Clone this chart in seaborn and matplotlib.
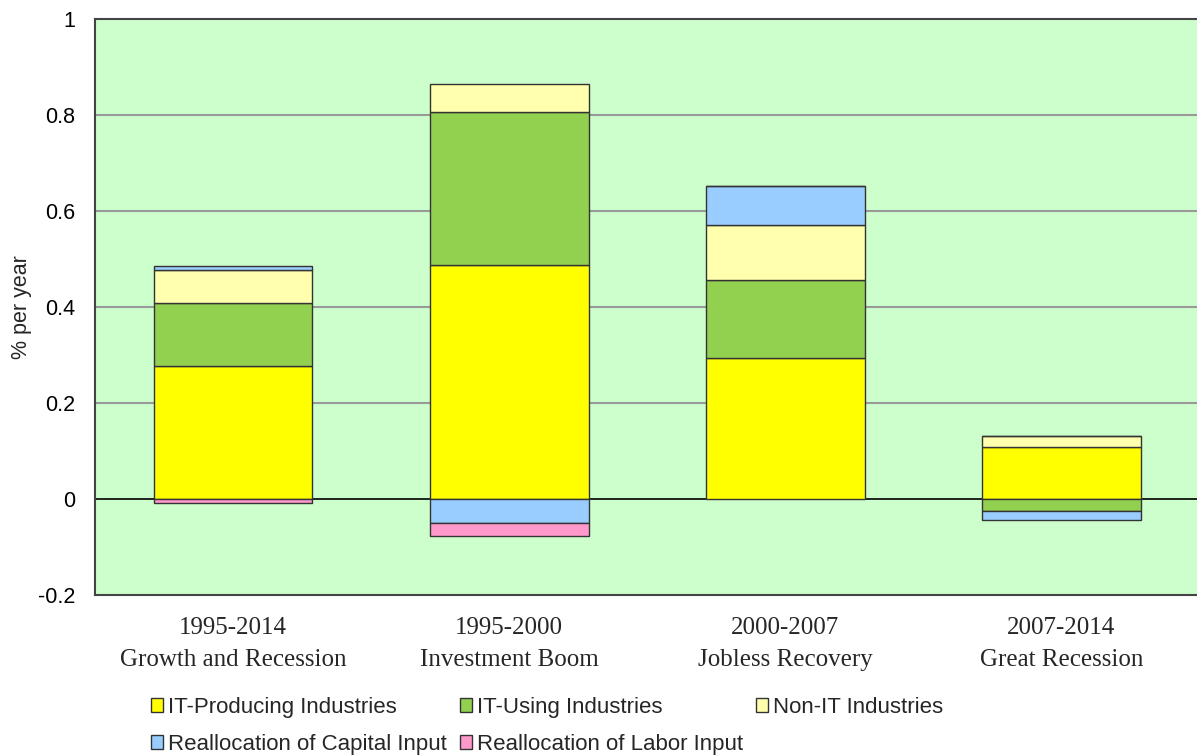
import matplotlib
matplotlib.use("Agg")
import matplotlib.pyplot as plt
import seaborn as sns
import numpy as np
from matplotlib.patches import Patch

# periods on the x axis
periods = ["1995-2014\nGrowth and Recession", "1995-2000\nInvestment Boom",
           "2000-2007\nJobless Recovery", "2007-2014\nGreat Recession"]

# contributions, % per year
it_producing = [0.277, 0.488, 0.294, 0.109]
it_using = [0.132, 0.318, 0.162, -0.024]
non_it = [0.069, 0.059, 0.115, 0.022]
realloc_capital = [0.008, -0.049, 0.082, -0.020]
realloc_labor = [-0.009, -0.029, 0.0, 0.0]

series = [
    ("IT-Producing Industries", it_producing, "#FFFF00"),
    ("IT-Using Industries", it_using, "#92D050"),
    ("Non-IT Industries", non_it, "#FFFFAD"),
    ("Reallocation of Capital Input", realloc_capital, "#99CCFF"),
    ("Reallocation of Labor Input", realloc_labor, "#FF99CC"),
]

sns.set_style("white")
plt.rcParams["font.family"] = ["Liberation Sans", "DejaVu Sans"]

fig = plt.figure(figsize=(11.97, 7.56), dpi=100)
ax = fig.add_axes([95 / 1197, 1 - 595 / 756, 1 - 95 / 1197 + 0.002, (595 - 19) / 756])
ax.set_facecolor("#CCFFCC")

pos_base = np.zeros(len(periods))
neg_base = np.zeros(len(periods))
handles = []
for name, vals, color in series:
    vals = np.array(vals)
    bottom = np.where(vals >= 0, pos_base, neg_base)
    sns.barplot(x=periods, y=vals, bottom=bottom, color=color, width=0.575,
                edgecolor="#333333", linewidth=1.0, saturation=1, ax=ax, zorder=3)
    pos_base = pos_base + np.where(vals >= 0, vals, 0)
    neg_base = neg_base + np.where(vals < 0, vals, 0)
    handles.append(Patch(facecolor=color, edgecolor="#333333", linewidth=1.0, label=name))

ax.set_ylim(-0.2, 1.0)
ax.set_yticks([-0.2, 0, 0.2, 0.4, 0.6, 0.8, 1.0])
ax.set_yticklabels(["-0.2", "0", "0.2", "0.4", "0.6", "0.8", "1"], fontsize=15.5)
for y in [0.2, 0.4, 0.6, 0.8]:
    ax.axhline(y, color="#999999", linewidth=1.5, zorder=1)
ax.axhline(0, color="black", linewidth=1.2, zorder=2)

ax.tick_params(axis="y", length=0, pad=14, colors="black")
ax.tick_params(axis="x", length=0, pad=16)
for lab in ax.get_xticklabels():
    lab.set_fontfamily(["Liberation Serif", "DejaVu Serif"])
    lab.set_fontsize(18)
    lab.set_linespacing(1.6)
ax.set_xlabel("")
ax.set_ylabel("% per year", fontsize=15.5)
ax.yaxis.set_label_coords(-0.057, 0.5)

for side in ["top", "left", "bottom"]:
    ax.spines[side].set_color("#444444")
    ax.spines[side].set_linewidth(1.5)
ax.spines["right"].set_visible(False)

# column-major order so rows read left to right
order = [0, 3, 1, 4, 2]
fig.legend([handles[i] for i in order], [series[i][0] for i in order],
           loc="upper left", bbox_to_anchor=(151 / 1197, 1 - 697 / 756),
           ncol=3, frameon=False, fontsize=16, handlelength=0.55, handleheight=0.55,
           handletextpad=0.2, columnspacing=0.6, labelspacing=0.72, borderaxespad=0,
           borderpad=0)

fig.savefig("out.png", dpi=100)
